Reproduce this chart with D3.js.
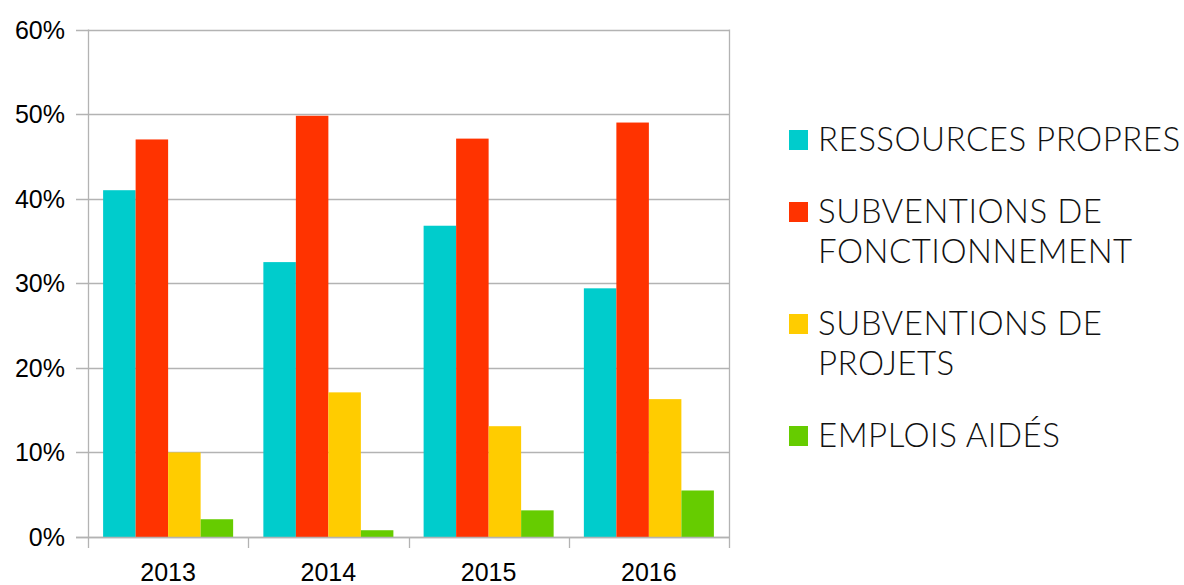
<!DOCTYPE html>
<html>
<head>
<meta charset="utf-8">
<script src="https://cdn.jsdelivr.net/npm/d3@7"></script>
<style>
  body { margin: 0; background: #fff; }
  svg { display: block; }
</style>
</head>
<body>
<svg width="1184" height="585"></svg>
<script>
const years = ['2013', '2014', '2015', '2016']
const series = ['RESSOURCES PROPRES', 'SUBVENTIONS DE FONCTIONNEMENT', 'SUBVENTIONS DE PROJETS', 'EMPLOIS AIDÉS']
const legendLines = [['RESSOURCES PROPRES'], ['SUBVENTIONS DE', 'FONCTIONNEMENT'], ['SUBVENTIONS DE', 'PROJETS'], ['EMPLOIS AIDÉS']]
const colors = ['#00cccc', '#ff3300', '#ffcc00', '#66cc00']
// values in %, one array per series (2013..2016)
const ressourcesPropres = [41.0, 32.5, 36.8, 29.4]
const subvFonctionnement = [47.0, 49.8, 47.1, 49.0]
const subvProjets = [10.0, 17.1, 13.1, 16.3]
const emploisAides = [2.1, 0.8, 3.15, 5.5]
const yTicks = [0, 10, 20, 30, 40, 50, 60]

const values = [ressourcesPropres, subvFonctionnement, subvProjets, emploisAides]
const data = years.map((yr, i) => ({ year: yr, vals: values.map((s, k) => ({ k: k, v: s[i] })) }))

const mLeft = 88, mRight = 729, mTop = 29.5, mBottom = 537
const svg = d3.select('svg')
const grid = '#b3b3b3'

const x0 = d3.scaleBand().domain(years).range([mLeft, mRight]).padding(0)
const x1 = d3.scaleBand().domain(d3.range(series.length)).range([0, x0.bandwidth()]).paddingInner(0).paddingOuter(0.465)
const y = d3.scaleLinear().domain([0, 60]).range([mBottom, mTop])

// horizontal grid
svg.append('g').selectAll('line').data(yTicks).enter().append('line')
    .attr('x1', mLeft - 12).attr('x2', mRight)
    .attr('y1', d => Math.round(y(d)) + 0.5).attr('y2', d => Math.round(y(d)) + 0.5)
    .attr('stroke', grid).attr('stroke-width', 1.3)

// right border
svg.append('line').attr('x1', mRight + 0.5).attr('x2', mRight + 0.5).attr('y1', mTop).attr('y2', mBottom + 11)
    .attr('stroke', grid).attr('stroke-width', 1.3)

// bars
const groups = svg.append('g').selectAll('g').data(data).enter().append('g')
    .attr('transform', d => `translate(${x0(d.year)},0)`)
groups.selectAll('rect').data(d => d.vals).enter().append('rect')
    .attr('x', d => x1(d.k))
    .attr('width', x1.bandwidth())
    .attr('y', d => y(d.v))
    .attr('height', d => y(0) - y(d.v))
    .attr('fill', d => colors[d.k])

// y axis line
svg.append('line').attr('x1', mLeft + 0.5).attr('x2', mLeft + 0.5).attr('y1', mTop).attr('y2', mBottom + 11)
    .attr('stroke', grid).attr('stroke-width', 1.3)
// baseline
svg.append('line').attr('x1', mLeft - 12).attr('x2', mRight).attr('y1', Math.round(y(0)) + 0.5).attr('y2', Math.round(y(0)) + 0.5)
    .attr('stroke', grid).attr('stroke-width', 1.6)

// x ticks between bands
const xTicks = years.slice(1)
svg.append('g').selectAll('line').data(xTicks).enter().append('line')
    .attr('x1', d => Math.round(x0(d)) + 0.5).attr('x2', d => Math.round(x0(d)) + 0.5)
    .attr('y1', mBottom).attr('y2', mBottom + 11)
    .attr('stroke', grid).attr('stroke-width', 1.3)

// y labels
svg.append('g').selectAll('text').data(yTicks).enter().append('text')
    .attr('x', 65).attr('y', d => y(d) + 9)
    .attr('text-anchor', 'end')
    .attr('font-family', 'Liberation Sans, Arial, sans-serif')
    .attr('font-size', 25)
    .attr('fill', '#000')
    .text(d => d + '%')

// x labels
svg.append('g').selectAll('text').data(years).enter().append('text')
    .attr('x', d => x0(d) + x0.bandwidth() / 2).attr('y', 581)
    .attr('text-anchor', 'middle')
    .attr('font-family', 'Liberation Sans, Arial, sans-serif')
    .attr('font-size', 25)
    .attr('fill', '#000')
    .text(d => d)

// legend
let base = 151
const legend = svg.append('g')
legendLines.forEach((lines, i) => {
    legend.append('rect').attr('x', 789).attr('y', base - 21).attr('width', 19).attr('height', 20).attr('fill', colors[i])
    lines.forEach((t, j) => {
        legend.append('text')
            .attr('x', 818).attr('y', base + j * 40)
            .attr('font-family', 'Lato, sans-serif')
            .attr('font-weight', 300)
            .attr('font-size', 33)
            .attr('letter-spacing', 0.5)
            .attr('fill', '#111')
            .text(t)
    })
    base += (lines.length - 1) * 40 + 72
})
</script>
</body>
</html>
